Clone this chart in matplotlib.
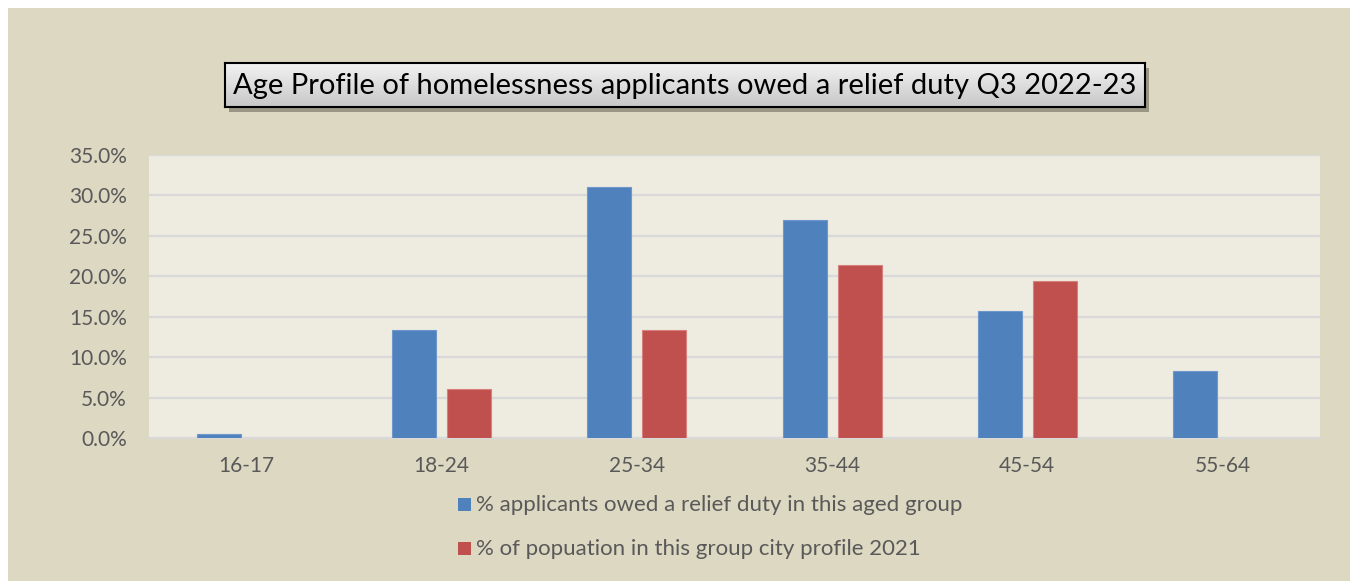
import matplotlib
matplotlib.use("Agg")
import matplotlib.pyplot as plt
from matplotlib.patches import Rectangle
from matplotlib.ticker import FuncFormatter, MultipleLocator
import numpy as np

age_groups = ["16-17", "18-24", "25-34", "35-44", "45-54", "55-64"]
applicants_pct = [0.5, 13.4, 31.0, 27.0, 15.7, 8.3]
population_pct = [0.0, 6.0, 13.3, 21.4, 19.4, 0.0]
series_names = ["% applicants owed a relief duty in this aged group",
                "% of popuation in this group city profile 2021"]
title_text = "Age Profile of homelessness applicants owed a relief duty Q3 2022-23"

blue = "#4F81BD"
red = "#C0504D"
outer_bg = "#DDD8C2"
inner_bg = "#EEEBE0"
text_grey = "#595959"

W, H = 1350, 581
fig = plt.figure(figsize=(W / 100, H / 100), dpi=100)
fig.patch.set_facecolor(outer_bg)

# thin white margin along the top and left edges
fig.patches.append(Rectangle((0, 1 - 8 / H), 1, 8 / H, transform=fig.transFigure,
                             facecolor="white", edgecolor="none", zorder=-1))
fig.patches.append(Rectangle((0, 0), 8 / W, 1, transform=fig.transFigure,
                             facecolor="white", edgecolor="none", zorder=-1))

ax = fig.add_axes([149 / W, 1 - 438 / H, (1320 - 149) / W, (438 - 155) / H])
ax.set_facecolor(inner_bg)

x = np.arange(len(age_groups))
w = 0.225
off = 0.141
# no outline on empty bars so nothing shows on the baseline
lw_a = [0.8 if v > 0 else 0 for v in applicants_pct]
lw_p = [0.8 if v > 0 else 0 for v in population_pct]
ax.bar(x - off, applicants_pct, w, color=blue, edgecolor="#6E97CC", linewidth=lw_a, zorder=3)
ax.bar(x + off, population_pct, w, color=red, edgecolor="#D8807D", linewidth=lw_p, zorder=3)

ax.set_xlim(-0.5, len(age_groups) - 0.5)
ax.set_ylim(0, 35)
ax.yaxis.set_major_locator(MultipleLocator(5))
ax.yaxis.set_major_formatter(FuncFormatter(lambda v, p: f"{v:.1f}%"))
ax.grid(axis="y", color="#D9D9D9", linewidth=1.6, zorder=1)
ax.set_axisbelow(True)
ax.set_xticks(x)
ax.set_xticklabels(age_groups)
for s in ["top", "right", "left"]:
    ax.spines[s].set_visible(False)
ax.spines["bottom"].set_color("#D9D9D9")
ax.spines["bottom"].set_linewidth(1.6)
ax.tick_params(axis="both", length=0, labelsize=15, colors=text_grey, labelfontfamily="Lato")
ax.tick_params(axis="y", pad=16)
ax.tick_params(axis="x", pad=13)

# legend, one entry per row
for i, (name, col) in enumerate(zip(series_names, [blue, red])):
    yy = 1 - (505 + i * 44) / H
    fig.patches.append(Rectangle((458 / W, yy - 6 / H), 13 / W, 13 / H, transform=fig.transFigure,
                                 facecolor=col, edgecolor="none"))
    fig.text(476 / W, yy, name, fontsize=16, color=text_grey, family="Lato", va="center", ha="left")

# boxed title with drop shadow
bx0, by0, bx1, by1 = 225, 63, 1145, 107
fig.patches.append(Rectangle(((bx0 + 4) / W, 1 - (by1 + 5) / H), (bx1 - bx0) / W, (by1 - by0) / H,
                             transform=fig.transFigure, facecolor="#9A9685", edgecolor="none", zorder=1))
grad_ax = fig.add_axes([bx0 / W, 1 - by1 / H, (bx1 - bx0) / W, (by1 - by0) / H], zorder=2)
grad = np.linspace(0.95, 0.78, 50).reshape(-1, 1)
grad_ax.imshow(grad, aspect="auto", cmap="gray", vmin=0, vmax=1, extent=(0, 1, 0, 1))
grad_ax.set_xticks([])
grad_ax.set_yticks([])
for sp in grad_ax.spines.values():
    sp.set_color("black")
    sp.set_linewidth(1.5)
grad_ax.text(0.5, 0.48, title_text, ha="center", va="center", fontsize=21,
             family="Lato", color="black", transform=grad_ax.transAxes)

fig.savefig("out.png", dpi=100, facecolor=fig.get_facecolor())
